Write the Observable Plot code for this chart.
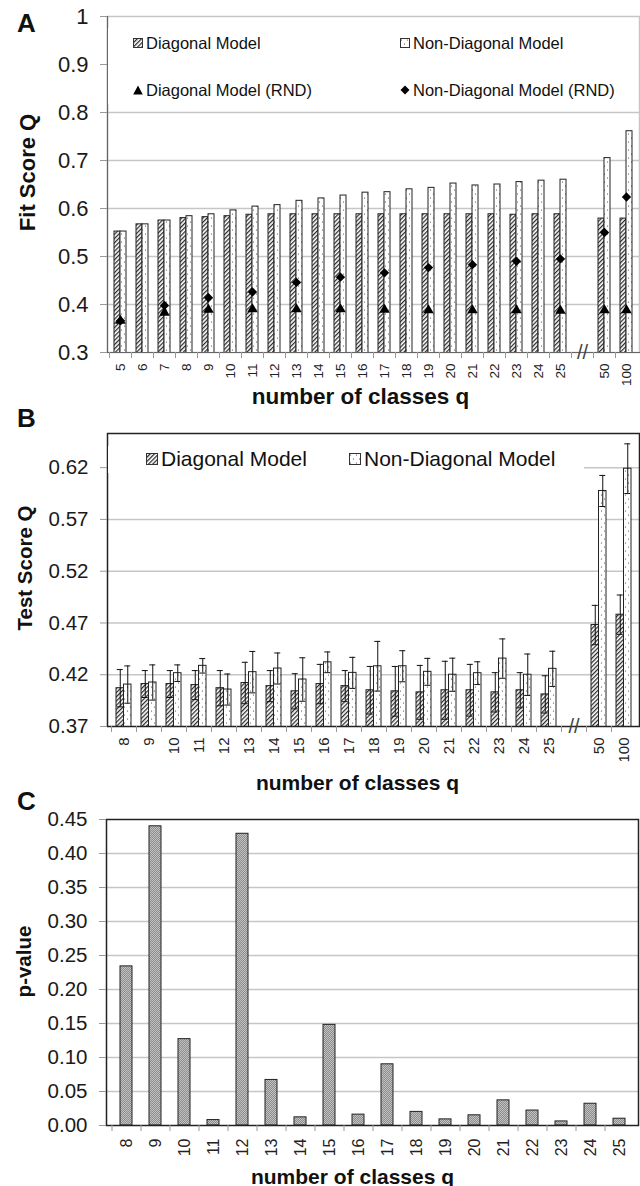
<!DOCTYPE html>
<html><head><meta charset="utf-8">
<script src="https://cdn.jsdelivr.net/npm/d3@7"></script>
<script src="https://cdn.jsdelivr.net/npm/@observablehq/plot@0.6"></script>
<style>
body{margin:0;background:#fff;font-family:Arial,"Liberation Sans",sans-serif;color:#111;}
#root{position:relative;width:640px;height:1186px;overflow:hidden;background:#fff;}
.panel{position:absolute;left:0;}
.letter{position:absolute;left:17px;font-weight:bold;font-size:26px;line-height:26px;}
.legbox{position:absolute;background:#fff;}
.item{position:absolute;display:flex;align-items:center;white-space:nowrap;height:22px;}
.item svg{margin-right:3px;}
</style></head><body>
<svg width="0" height="0" style="position:absolute">
<defs>
<pattern id="hatch" width="3" height="3" patternUnits="userSpaceOnUse" patternTransform="rotate(45)">
<rect width="3" height="3" fill="#fff"/>
<line x1="0.6" y1="0" x2="0.6" y2="3" stroke="#2a2a2a" stroke-width="1.3"/>
</pattern>
<pattern id="dots" width="6" height="8" patternUnits="userSpaceOnUse">
<rect width="6" height="8" fill="#fff"/>
<circle cx="1.5" cy="2" r="0.6" fill="#444"/>
<circle cx="4.5" cy="6" r="0.6" fill="#444"/>
</pattern>
<pattern id="gray" width="2" height="2" patternUnits="userSpaceOnUse">
<rect width="2" height="2" fill="#c2c2c2"/>
<rect x="0" y="0" width="1" height="1" fill="#8c8c8c"/>
<rect x="1" y="1" width="1" height="1" fill="#8c8c8c"/>
</pattern>
</defs>
</svg>
<div id="root">
<div id="pA" class="panel" style="top:0"></div>
<div id="pB" class="panel" style="top:405px"></div>
<div id="pC" class="panel" style="top:795px"></div>
<div class="letter" style="top:10px">A</div>
<div class="letter" style="top:405px">B</div>
<div class="letter" style="top:788px">C</div>
<div class="legbox" style="left:108px;top:28px;width:530px;height:76px;font-size:16.5px">
 <div class="item" style="left:25px;top:4px"><svg width="10" height="10"><rect x="0.5" y="0.5" width="9" height="9" fill="url(#hatch)" stroke="#333"/></svg><span>Diagonal Model</span></div>
 <div class="item" style="left:292px;top:4px"><svg width="10" height="10"><rect x="0.5" y="0.5" width="9" height="9" fill="url(#dots)" stroke="#333"/></svg><span>Non-Diagonal Model</span></div>
 <div class="item" style="left:25px;top:51px"><svg width="10" height="10"><polygon points="5,0.5 9.8,9.5 0.2,9.5" fill="#000"/></svg><span>Diagonal Model (RND)</span></div>
 <div class="item" style="left:292px;top:51px"><svg width="10" height="10"><polygon points="5,0.5 9.5,5 5,9.5 0.5,5" fill="#000"/></svg><span>Non-Diagonal Model (RND)</span></div>
</div>
<div class="legbox" style="left:108px;top:446px;width:476px;height:27px;font-size:21px">
 <div class="item" style="left:38px;top:2px"><svg width="12" height="12"><rect x="0.5" y="0.5" width="11" height="11" fill="url(#hatch)" stroke="#333"/></svg><span>Diagonal Model</span></div>
 <div class="item" style="left:241px;top:2px"><svg width="12" height="12"><rect x="0.5" y="0.5" width="11" height="11" fill="url(#dots)" stroke="#333"/></svg><span>Non-Diagonal Model</span></div>
</div>
</div>
<script>
// ---------- Panel A data: fit score Q ----------
const fitQ = ["5","6","7","8","9","10","11","12","13","14","15","16","17","18","19","20","21","22","23","24","25","50","100"];
const fitDiagonal = [0.552,0.567,0.575,0.580,0.582,0.584,0.587,0.588,0.588,0.588,0.588,0.588,0.588,0.588,0.588,0.588,0.588,0.588,0.587,0.588,0.588,0.579,0.579];
const fitNonDiagonal = [0.552,0.567,0.575,0.584,0.588,0.596,0.604,0.607,0.616,0.621,0.627,0.633,0.634,0.640,0.643,0.652,0.648,0.650,0.655,0.658,0.660,0.705,0.761];
const rndQ = ["5","7","9","11","13","15","17","19","21","23","25","50","100"];
const rndDiagonal = [0.366,0.383,0.389,0.390,0.390,0.390,0.389,0.388,0.388,0.388,0.387,0.388,0.388];
const rndNonDiagonal = [0.366,0.398,0.414,0.426,0.446,0.457,0.466,0.477,0.483,0.490,0.495,0.550,0.624];
const fitTicks = [0.3,0.4,0.5,0.6,0.7,0.8,0.9,1.0];

// ---------- Panel B data: test score Q ----------
const testQ = ["8","9","10","11","12","13","14","15","16","17","18","19","20","21","22","23","24","25","50","100"];
const testDiagonal = [0.407,0.411,0.411,0.410,0.407,0.412,0.409,0.404,0.411,0.409,0.405,0.404,0.403,0.405,0.405,0.403,0.405,0.401,0.468,0.478];
const testDiagonalErr = [0.018,0.013,0.013,0.014,0.017,0.020,0.015,0.017,0.019,0.015,0.023,0.024,0.026,0.028,0.025,0.019,0.017,0.018,0.019,0.019];
const testNonDiagonal = [0.4105,0.4125,0.4215,0.4286,0.4057,0.4225,0.426,0.4154,0.432,0.4218,0.4282,0.4282,0.4228,0.420,0.4215,0.4356,0.420,0.4257,0.5975,0.619];
const testNonDiagonalErr = [0.018,0.017,0.008,0.007,0.015,0.020,0.015,0.021,0.010,0.015,0.024,0.015,0.013,0.016,0.011,0.019,0.020,0.017,0.015,0.024];
const testTicks = [0.37,0.42,0.47,0.52,0.57,0.62];

// ---------- Panel C data: p-values ----------
const pQ = ["8","9","10","11","12","13","14","15","16","17","18","19","20","21","22","23","24","25"];
const pValue = [0.234,0.440,0.127,0.008,0.429,0.067,0.012,0.148,0.016,0.090,0.020,0.009,0.015,0.037,0.022,0.006,0.032,0.010];
const pTicks = [0,0.05,0.10,0.15,0.20,0.25,0.30,0.35,0.40,0.45];

const gapKey = "//";
const FONT = "Arial, 'Liberation Sans', sans-serif";
const tf = d => d === gapKey ? "" : d;

const fitRows = fitQ.map((q,i)=>({q, diag: fitDiagonal[i], nondiag: fitNonDiagonal[i]}));
const rndRows = rndQ.map((q,i)=>({q, diag: rndDiagonal[i], nondiag: rndNonDiagonal[i]}));
const testRows = testQ.map((q,i)=>({q, diag: testDiagonal[i], de: testDiagonalErr[i], nondiag: testNonDiagonal[i], ne: testNonDiagonalErr[i]}));
const pRows = pQ.map((q,i)=>({q, p: pValue[i]}));

const domA = [...fitQ.slice(0, fitQ.indexOf("25")+1), gapKey, ...fitQ.slice(fitQ.indexOf("25")+1)];
const domB = [...testQ.slice(0, testQ.indexOf("25")+1), gapKey, ...testQ.slice(testQ.indexOf("25")+1)];

function panelA(bw, step) {
  return Plot.plot({
    width: 640, height: 412, marginTop: 16, marginBottom: 60, marginLeft: 107, marginRight: 1,
    style: {fontFamily: FONT, background: "transparent", color: "#111"},
    x: {type: "band", domain: domA, paddingInner: 0.44, paddingOuter: 0.22},
    y: {domain: [0.3, 1]},
    marks: [
      Plot.gridY(fitTicks.filter(t => t !== 0.9 && t !== 0.3 && t !== 1), {stroke: "#c6c6c6", strokeOpacity: 1, strokeWidth: 1.5}),
      Plot.frame({stroke: "#c6c6c6", strokeWidth: 1.5}),
      Plot.barY(fitRows, {x: "q", y: "diag", insetRight: bw/2, fill: "url(#hatch)", stroke: "#222", strokeWidth: 1, clip: true}),
      Plot.barY(fitRows, {x: "q", y: "nondiag", insetLeft: bw/2, fill: "url(#dots)", stroke: "#222", strokeWidth: 1, clip: true}),
      Plot.dot(rndRows, {x: "q", y: "diag", symbol: "triangle", r: 3.9, fill: "#000", stroke: "none"}),
      Plot.dot(rndRows, {x: "q", y: "nondiag", symbol: "diamond2", r: 4.2, fill: "#000", stroke: "none"}),
      Plot.frame({anchor: "left", stroke: "#666", strokeWidth: 1.2}),
      Plot.frame({anchor: "bottom", stroke: "#666", strokeWidth: 1.2}),
      Plot.axisY({ticks: fitTicks, tickFormat: d => d === 1 ? "1" : d.toFixed(1), tickSize: 7, tickPadding: 12, fontSize: 22, stroke: "#999", fill: "#1a1a1a", label: null}),
      Plot.axisX({tickSize: 0, tickPadding: 11, tickRotate: -90, fontSize: 13.5, tickFormat: tf, fill: "#222", label: null}),
      Plot.axisX({tickSize: 6, tickFormat: () => "", dx: -step/2, stroke: "#999", label: null}),
      Plot.text([gapKey], {x: d => d, frameAnchor: "bottom", text: d => d, fontSize: 20, lineAnchor: "middle", fill: "#444"}),
      Plot.text(["Fit Score Q"], {frameAnchor: "left", textAnchor: "middle", dx: -80, dy: -12, rotate: -90, fontSize: 22, fontWeight: "bold", fill: "#111"}),
      Plot.text(["number of classes q"], {frameAnchor: "bottom", dx: -13, dy: 51, lineAnchor: "bottom", fontSize: 22.5, fontWeight: "bold", fill: "#111"})
    ]
  });
}

function panelB(bw, step) {
  return Plot.plot({
    width: 640, height: 390, marginTop: 28, marginBottom: 69, marginLeft: 107, marginRight: 1,
    style: {fontFamily: FONT, background: "transparent", color: "#111"},
    x: {type: "band", domain: domB, paddingInner: 0.41, paddingOuter: 0.205},
    y: {domain: [0.37, 0.653]},
    marks: [
      Plot.gridY(testTicks.filter(t => t !== 0.37), {stroke: "#c6c6c6", strokeOpacity: 1, strokeWidth: 1.5}),
      Plot.barY(testRows, {x: "q", y: "diag", insetRight: bw/2, fill: "url(#hatch)", stroke: "#222", strokeWidth: 1, clip: true}),
      Plot.barY(testRows, {x: "q", y: "nondiag", insetLeft: bw/2, fill: "url(#dots)", stroke: "#222", strokeWidth: 1, clip: true}),
      Plot.ruleX(testRows, {x: "q", y1: d => d.diag - d.de, y2: d => d.diag + d.de, dx: -bw/4, stroke: "#111", strokeWidth: 1}),
      Plot.ruleX(testRows, {x: "q", y1: d => d.nondiag - d.ne, y2: d => d.nondiag + d.ne, dx: bw/4, stroke: "#111", strokeWidth: 1}),
      Plot.tickY(testRows, {x: "q", y: d => d.diag + d.de, insetLeft: bw/4 - 3, insetRight: 3*bw/4 - 3, stroke: "#111"}),
      Plot.tickY(testRows, {x: "q", y: d => d.diag - d.de, insetLeft: bw/4 - 3, insetRight: 3*bw/4 - 3, stroke: "#111"}),
      Plot.tickY(testRows, {x: "q", y: d => d.nondiag + d.ne, insetLeft: 3*bw/4 - 3, insetRight: bw/4 - 3, stroke: "#111"}),
      Plot.tickY(testRows, {x: "q", y: d => d.nondiag - d.ne, insetLeft: 3*bw/4 - 3, insetRight: bw/4 - 3, stroke: "#111"}),
      Plot.frame({stroke: "#222", strokeWidth: 1.5}),
      Plot.axisY({ticks: testTicks, tickFormat: d => d.toFixed(2), tickSize: 7, tickPadding: 12, fontSize: 20.5, stroke: "#999", fill: "#1a1a1a", label: null}),
      Plot.axisX({tickSize: 0, tickPadding: 11, tickRotate: -90, fontSize: 15, tickFormat: tf, fill: "#222", label: null}),
      Plot.axisX({tickSize: 6, tickFormat: () => "", dx: -step/2, stroke: "#999", label: null}),
      Plot.text([gapKey], {x: d => d, frameAnchor: "bottom", text: d => d, fontSize: 20, lineAnchor: "middle", fill: "#444"}),
      Plot.text(["Test Score Q"], {frameAnchor: "left", textAnchor: "middle", dx: -82, dy: -12, rotate: -90, fontSize: 20.5, fontWeight: "bold", fill: "#111"}),
      Plot.text(["number of classes q"], {frameAnchor: "bottom", dx: -16, dy: 63, lineAnchor: "bottom", fontSize: 21, fontWeight: "bold", fill: "#111"})
    ]
  });
}

function panelC(bw, step) {
  return Plot.plot({
    width: 640, height: 391, marginTop: 24, marginBottom: 61, marginLeft: 106, marginRight: 2,
    style: {fontFamily: FONT, background: "transparent", color: "#111"},
    x: {type: "band", domain: pQ, paddingInner: 0.6, paddingOuter: 0.3},
    y: {domain: [0, 0.45]},
    marks: [
      Plot.gridY(pTicks.filter(t => t > 0 && t < 0.45), {stroke: "#c6c6c6", strokeOpacity: 1, strokeWidth: 1.5}),
      Plot.barY(pRows, {x: "q", y: "p", fill: "url(#gray)", stroke: "#222", strokeWidth: 1}),
      Plot.frame({stroke: "#222", strokeWidth: 1.5}),
      Plot.axisY({ticks: pTicks, tickFormat: d => d.toFixed(2), tickSize: 7, tickPadding: 12, fontSize: 20.5, stroke: "#999", fill: "#1a1a1a", label: null}),
      Plot.axisX({tickSize: 0, tickPadding: 13, tickRotate: -90, fontSize: 16, fill: "#222", label: null}),
      Plot.axisX({tickSize: 6, tickFormat: () => "", dx: -step/2, stroke: "#999", label: null}),
      Plot.text(["p-value"], {frameAnchor: "left", textAnchor: "middle", dx: -82, dy: -11, rotate: -90, fontSize: 20.5, fontWeight: "bold", fill: "#111"}),
      Plot.text(["number of classes q"], {frameAnchor: "bottom", dx: -20, dy: 58, lineAnchor: "bottom", fontSize: 21, fontWeight: "bold", fill: "#111"})
    ]
  });
}

function render(fn, id) {
  const probe = fn(0, 0);
  const sx = probe.scale("x");
  document.getElementById(id).append(fn(sx.bandwidth, sx.step));
}
render(panelA, "pA");
render(panelB, "pB");
render(panelC, "pC");
</script>
</body></html>
